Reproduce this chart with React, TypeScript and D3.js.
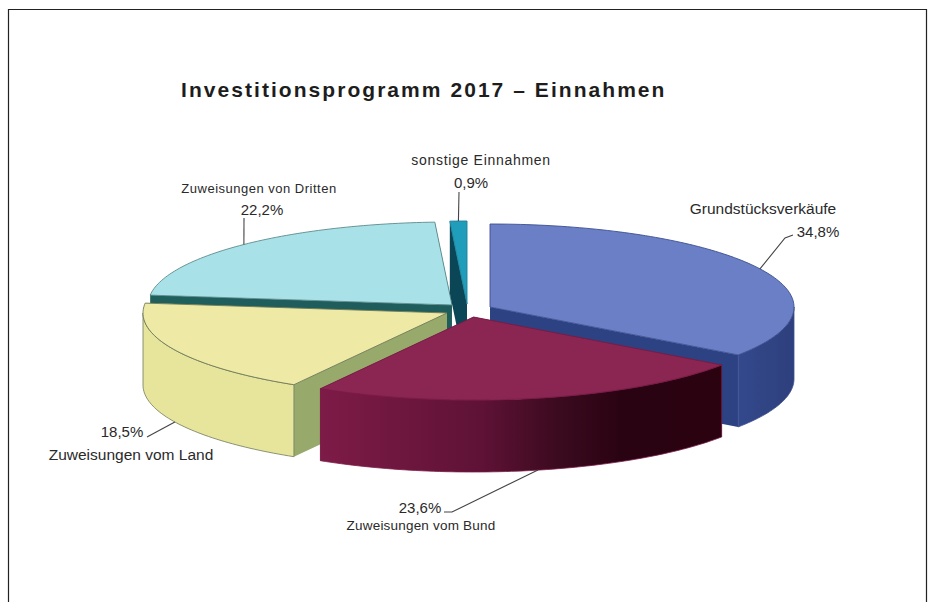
import * as d3 from 'd3';

const categories = [
  'Grundstücksverkäufe',
  'Zuweisungen vom Bund',
  'Zuweisungen vom Land',
  'Zuweisungen von Dritten',
  'sonstige Einnahmen',
];
const shares = [34.8, 23.6, 18.5, 22.2, 0.9];
const shareLabels = ['34,8%', '23,6%', '18,5%', '22,2%', '0,9%'];
const title = 'Investitionsprogramm 2017 – Einnahmen';

const WIDTH = 936;
const HEIGHT = 602;
const RX = 304;
const RY = 83;
const DEPTH = 72;
const FONT = '"Liberation Sans", Arial, sans-serif';

// exploded centre of every slice, same order as categories
const origins = [
  [490, 307],
  [473.5, 317],
  [447, 313],
  [452, 305],
  [467, 304],
];
const topColors = ['#6a7fc6', '#8b2551', '#eeeaa6', '#a8e2e8', '#1f9dbb'];
const cutColors = ['#2c4282', '#5c1236', '#98a96c', 'url(#cutCyan)', '#0a4655'];
const wallColors = ['url(#wallBlue)', 'url(#wallMaroon)', '#e7e59c', '#1f5c5c', '#0a4655'];
const edgeColors = ['#3d4f8f', '#7a1c47', '#6f7a5a', '#5d8a8c', '#1b7f96'];

// where the label text sits and the elbow of its leader line
const labelLayout = [
  { name: [763, 214, 15.5, 0], value: [818, 237, 15, 0], elbow: [[785, 238], [793, 235]], down: false },
  { name: [421, 530, 13.5, 0.2], value: [420, 513, 15, 0], elbow: [[452, 512], [444, 512]], down: true },
  { name: [131, 460, 15.5, 0], value: [122, 437, 15, 0], elbow: [[147, 437]], down: true },
  { name: [259, 193, 13, 0.5], value: [262, 215, 15, 0], elbow: [[244, 218]], down: false },
  { name: [481, 165, 14, 0.7], value: [471, 188, 15, 0], elbow: [[459, 192]], down: false },
];

const pie = d3.pie<number>().sort(null).value((d) => d);
const slices = pie(shares);

const rim = (origin: number[], angle: number, drop = 0): [number, number] => [
  origin[0] + RX * Math.sin(angle),
  origin[1] - RY * Math.cos(angle) + drop,
];

const sweep = (a0: number, a1: number) => {
  const steps = Math.max(2, Math.ceil((a1 - a0) / 0.02));
  return d3.range(steps + 1).map((i) => a0 + ((a1 - a0) * i) / steps);
};

const line = d3.line();
const closed = (pts: [number, number][]) => `${line(pts)}Z`;

const topFace = (o: number[], a0: number, a1: number) =>
  closed([[o[0], o[1]], ...sweep(a0, a1).map((a) => rim(o, a))]);

const cutFace = (o: number[], a: number) => {
  const p = rim(o, a);
  return closed([
    [o[0], o[1]],
    p,
    [p[0], p[1] + DEPTH],
    [o[0], o[1] + DEPTH],
  ]);
};

const outerWall = (o: number[], a0: number, a1: number) => {
  // only the front half of the rim can be seen
  const from = Math.max(a0, Math.PI / 2);
  const to = Math.min(a1, (3 * Math.PI) / 2);
  if (to <= from) return null;
  const angles = sweep(from, to);
  return d3
    .area<number>()
    .x((a) => rim(o, a)[0])
    .y0((a) => rim(o, a)[1])
    .y1((a) => rim(o, a)[1] + DEPTH)(angles);
};

const App = () => {
  return (
    <svg
      width={WIDTH}
      height={HEIGHT}
      viewBox={`0 0 ${WIDTH} ${HEIGHT}`}
      style={{ position: 'absolute', left: 0, top: 0, background: '#fff' }}
    >
      <defs>
        <linearGradient id="wallMaroon" x1="0" x2="1" y1="0" y2="0">
          <stop offset="0" stopColor="#7d1b47" />
          <stop offset="0.4" stopColor="#5f1236" />
          <stop offset="0.6" stopColor="#3a0a1e" />
          <stop offset="0.75" stopColor="#2a0312" />
          <stop offset="1" stopColor="#2a0210" />
        </linearGradient>
        <linearGradient id="wallBlue" x1="0" x2="1" y1="0" y2="0">
          <stop offset="0" stopColor="#33498c" />
          <stop offset="1" stopColor="#2e3f7c" />
        </linearGradient>
        <linearGradient id="cutCyan" x1="0" x2="1" y1="0" y2="0">
          <stop offset="0" stopColor="#1f5f5c" />
          <stop offset="0.97" stopColor="#1f5c5c" />
          <stop offset="0.985" stopColor="#7d9a92" />
          <stop offset="1" stopColor="#7d9a92" />
        </linearGradient>
      </defs>

      <path
        d={`M8.5,${HEIGHT}V9.5H926.5V${HEIGHT}`}
        fill="none"
        stroke="#222"
        strokeWidth={1.2}
      />

      <text
        x={181}
        y={97}
        fontFamily={FONT}
        fontWeight="bold"
        fontSize={21}
        letterSpacing={2.05}
        fill="#1d1d1d"
      >
        {title}
      </text>

      {/* back to front: the slices overlap because of the explosion */}
      {[3, 4, 0, 2, 1].map((i) => {
        const s = slices[i];
        const o = origins[i];
        const wall = outerWall(o, s.startAngle, s.endAngle);
        return (
          <g key={categories[i]}>
            <path d={cutFace(o, s.startAngle)} fill={cutColors[i]} />
            <path d={cutFace(o, s.endAngle)} fill={cutColors[i]} />
            {wall && <path d={wall} fill={wallColors[i]} stroke={edgeColors[i]} strokeWidth={0.8} />}
            <path d={topFace(o, s.startAngle, s.endAngle)} fill={topColors[i]} stroke={edgeColors[i]} strokeWidth={0.9} />
          </g>
        );
      })}

      {slices.map((s, i) => {
        const layout = labelLayout[i];
        const mid = (s.startAngle + s.endAngle) / 2;
        const anchor = rim(origins[i], mid, layout.down ? DEPTH : 0);
        const [nx, ny, ns, nls] = layout.name;
        const [vx, vy, vs] = layout.value;
        return (
          <g key={categories[i]} fontFamily={FONT} fill="#2a2a2a" textAnchor="middle">
            <path
              d={line([anchor, ...(layout.elbow as [number, number][])]) ?? ''}
              fill="none"
              stroke="#444"
              strokeWidth={1.1}
            />
            <text x={nx} y={ny} fontSize={ns} letterSpacing={nls}>
              {categories[i]}
            </text>
            <text x={vx} y={vy} fontSize={vs}>
              {shareLabels[i]}
            </text>
          </g>
        );
      })}
    </svg>
  );
};

export default App;
